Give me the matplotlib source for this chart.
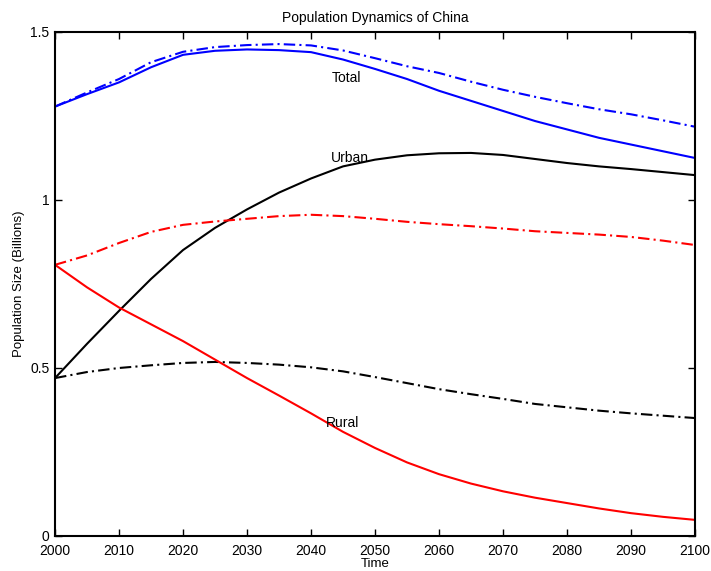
import matplotlib.pyplot as plt

plt.rcParams['font.family'] = ['Liberation Sans', 'DejaVu Sans']

years = list(range(2000, 2101, 5))

# solid lines
total = [1.278, 1.315, 1.350, 1.395, 1.432, 1.444, 1.448, 1.446, 1.440, 1.418, 1.390,
         1.360, 1.325, 1.295, 1.265, 1.235, 1.210, 1.185, 1.165, 1.145, 1.125]
urban = [0.470, 0.572, 0.670, 0.765, 0.851, 0.917, 0.972, 1.022, 1.064, 1.100, 1.120,
         1.133, 1.139, 1.140, 1.134, 1.122, 1.110, 1.100, 1.092, 1.083, 1.074]
rural = [0.807, 0.740, 0.680, 0.630, 0.580, 0.525, 0.470, 0.418, 0.365, 0.310, 0.262,
         0.219, 0.184, 0.156, 0.133, 0.114, 0.098, 0.082, 0.068, 0.057, 0.048]

# dash-dot lines
total_dd = [1.278, 1.320, 1.360, 1.410, 1.441, 1.455, 1.461, 1.464, 1.460, 1.445, 1.422,
            1.398, 1.378, 1.352, 1.328, 1.307, 1.288, 1.270, 1.255, 1.237, 1.218]
urban_dd = [0.470, 0.488, 0.500, 0.508, 0.515, 0.518, 0.515, 0.510, 0.502, 0.490, 0.473,
            0.455, 0.437, 0.422, 0.408, 0.393, 0.383, 0.373, 0.365, 0.358, 0.351]
rural_dd = [0.807, 0.835, 0.872, 0.905, 0.926, 0.936, 0.944, 0.952, 0.956, 0.952, 0.944,
            0.935, 0.928, 0.922, 0.915, 0.907, 0.902, 0.897, 0.890, 0.879, 0.866]

xticks = list(range(2000, 2101, 10))
yticks = [0, 0.5, 1, 1.5]
ytick_labels = ['0', '0.5', '1', '1.5']

fig = plt.figure(figsize=(7.11, 5.71), dpi=100)
ax = fig.add_axes([0.0774, 0.0613, 0.9001, 0.8827])

dd = (5.5, 2, 1, 2)
ax.plot(years, total, color='#0000ff', lw=1.5)
ax.plot(years, total_dd, color='#0000ff', lw=1.5, dashes=dd)
ax.plot(years, urban, color='black', lw=1.5)
ax.plot(years, urban_dd, color='black', lw=1.5, dashes=dd)
ax.plot(years, rural, color='#ff0000', lw=1.5)
ax.plot(years, rural_dd, color='#ff0000', lw=1.5, dashes=dd)

ax.text(2045.5, 1.363, 'Total', ha='center', va='center', fontsize=10)
ax.text(2046, 1.125, 'Urban', ha='center', va='center', fontsize=10)
ax.text(2045, 0.336, 'Rural', ha='center', va='center', fontsize=10)

ax.set_xlim(2000, 2100)
ax.set_ylim(0, 1.5)
ax.set_xticks(xticks)
ax.set_yticks(yticks)
ax.set_yticklabels(ytick_labels)
ax.tick_params(direction='in', length=5, width=1, top=True, right=True, labelsize=10)
ax.tick_params(axis='x', pad=6)
ax.tick_params(axis='y', pad=4)
for s in ax.spines.values():
    s.set_linewidth(1.5)

ax.set_title('Population Dynamics of China', fontsize=10, pad=7)
ax.set_xlabel('Time', fontsize=9.5, labelpad=0)
ax.set_ylabel('Population Size (Billions)', fontsize=9.5, labelpad=4)

plt.savefig('out.png', dpi=100)
